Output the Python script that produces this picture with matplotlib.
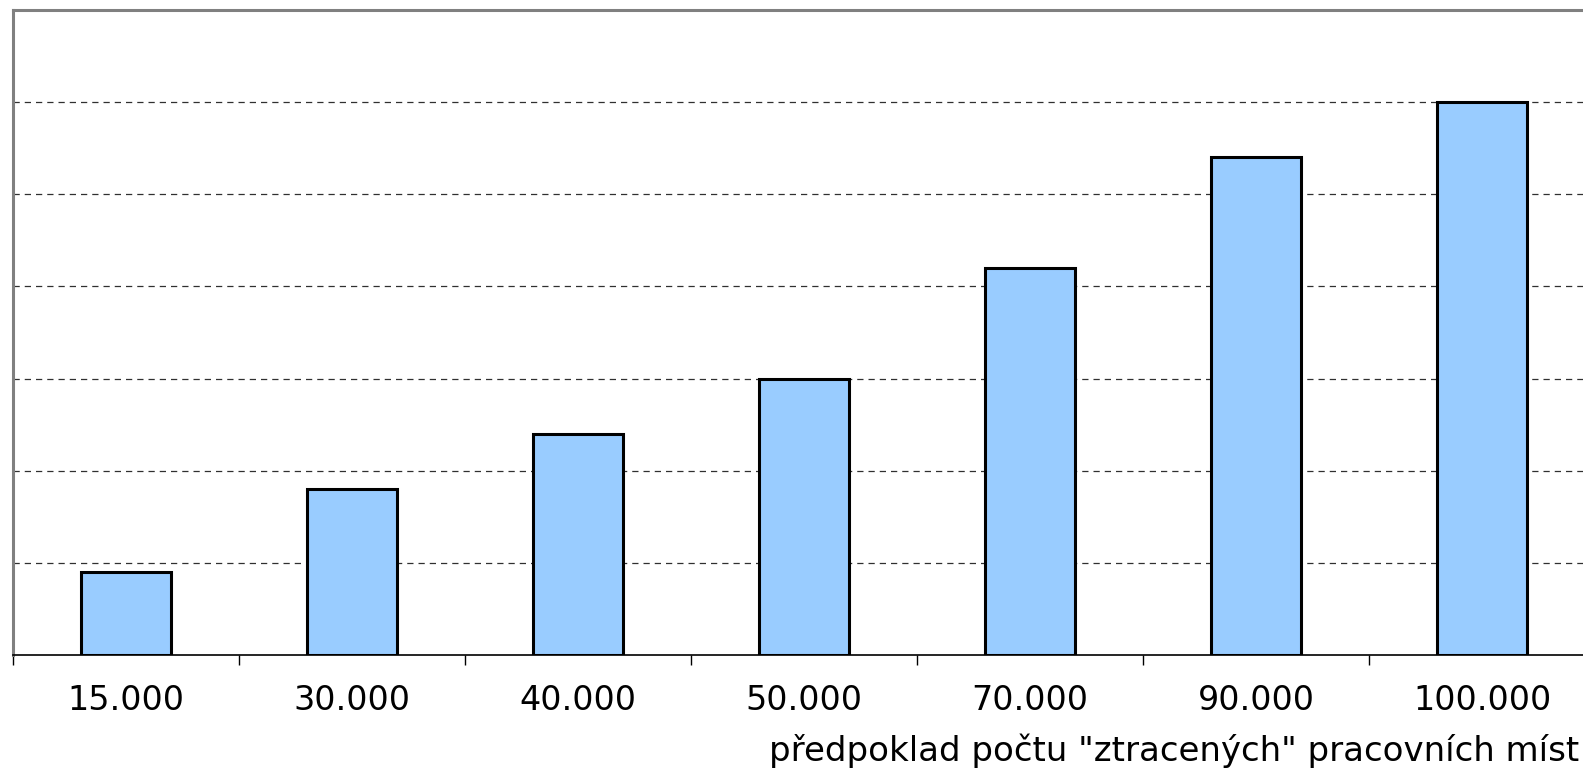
import matplotlib
matplotlib.use("Agg")
import matplotlib.pyplot as plt
import numpy as np

categories = ["15.000", "30.000", "40.000", "50.000", "70.000", "90.000", "100.000"]
values = [0.9, 1.8, 2.4, 3.0, 4.2, 5.4, 6.0]
xlabel = 'předpoklad počtu "ztracených" pracovních míst'

plt.rcParams['font.family'] = ['DejaVu Sans']

fig = plt.figure(figsize=(15.83, 7.71), dpi=100)
ax = fig.add_axes([12.7 / 1583, 116 / 771, 1582.4 / 1583, 645 / 771])

x = np.arange(len(categories))
ax.bar(x, values, width=0.40, color='#99CCFF', edgecolor='black', linewidth=2.2, zorder=3)

ax.set_xlim(-0.5, len(categories) - 0.5)
ax.set_ylim(0, 7)

for y in range(1, 7):
    ax.axhline(y, color='#303030', linewidth=0.9, linestyle=(0, (5, 4)), zorder=1)

ax.set_yticks([])
ax.set_xticks(x)
ax.set_xticklabels(categories, fontsize=24)
ax.tick_params(axis='x', which='major', length=0, pad=21)
ax.set_xticks(np.arange(-0.5, len(categories), 1.0), minor=True)
ax.tick_params(axis='x', which='minor', length=7, width=1, color='black')

for s in ['left', 'top']:
    ax.spines[s].set_color('#808080')
    ax.spines[s].set_linewidth(2.2)
ax.spines['right'].set_visible(False)
ax.spines['bottom'].set_color('black')
ax.spines['bottom'].set_linewidth(1.2)
ax.spines['bottom'].set_zorder(4)

fig.text(1579 / 1583, 10 / 771, xlabel, fontsize=24.5, ha='right', va='baseline')

fig.savefig('out.png', dpi=100)
